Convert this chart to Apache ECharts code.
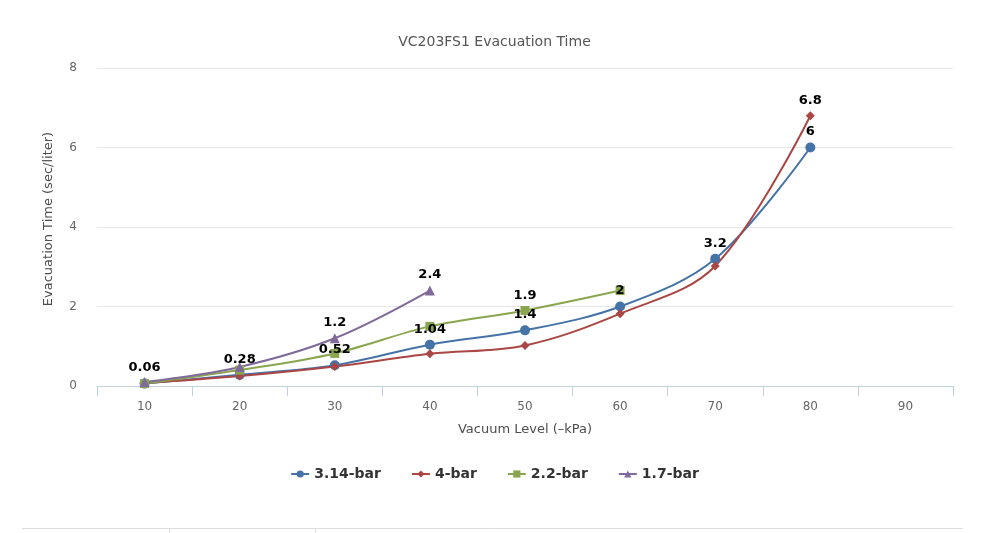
<!DOCTYPE html>
<html>
<head>
<meta charset="utf-8">
<script src="https://cdn.jsdelivr.net/npm/echarts@6/dist/echarts.min.js"></script>
<style>html,body{margin:0;padding:0;background:#fff}#c{width:989px;height:533px}</style>
</head>
<body>
<div id="c"></div>
<script>
var categories = ['10','20','30','40','50','60','70','80','90'];
var bar314 = [0.06, 0.28, 0.52, 1.04, 1.4, 2, 3.2, 6, null];
var bar4 = [0.07, 0.25, 0.49, 0.81, 1.02, 1.82, 3.02, 6.8, null];
var bar22 = [0.06, 0.4, 0.82, 1.5, 1.9, 2.4, null, null, null];
var bar17 = [0.1, 0.48, 1.2, 2.4, null, null, null, null, null];
var yTicks = [0, 2, 4, 6, 8];
// which points carry a visible value label (indices into categories)
var labels314 = [0,1,2,3,4,5,6,7];
var labels4 = [7];
var labels22 = [4];
var labels17 = [2,3];

var FONT = 'DejaVu Sans';
function mk(vals, shown){
  return vals.map(function(v,i){
    return {value: v, label: {show: shown.indexOf(i) >= 0}};
  });
}
var chart = echarts.init(document.getElementById('c'), null, {renderer:'canvas'});
var lbl = {position:'top', distance:4, color:'#000', fontWeight:'bold', fontSize:13, fontFamily:FONT};
function series(name, vals, shown, color, sym, size){
  return {
    name: name, type:'line', smooth:0.35, data: mk(vals, shown),
    symbol: sym, symbolSize: size, connectNulls:false,
    lineStyle:{width:2, color:color}, itemStyle:{color:color},
    label: Object.assign({}, lbl), emphasis:{disabled:true}
  };
}
chart.setOption({
  animation:false,
  title:{text:'VC203FS1 Evacuation Time', left:'center', top:30,
    textStyle:{fontFamily:FONT, fontSize:14, fontWeight:'normal', color:'#555'}},
  legend:{bottom:47, left:'center', itemWidth:18, itemHeight:9, itemGap:30,
    textStyle:{fontFamily:FONT, fontSize:14, fontWeight:'bold', color:'#333'}},
  grid:{left:97, right:36, top:68, bottom:147},
  xAxis:{type:'category', data:categories, boundaryGap:true,
    name:'Vacuum Level (–kPa)', nameLocation:'middle', nameGap:37,
    nameTextStyle:{fontFamily:FONT, fontSize:13, color:'#4d4d4d'},
    axisLine:{lineStyle:{color:'#C0D0E0'}},
    axisTick:{show:true, length:10, lineStyle:{color:'#C0D0E0'}},
    axisLabel:{fontFamily:FONT, fontSize:12, color:'#666', margin:15}},
  yAxis:{type:'value', min:yTicks[0], max:yTicks[yTicks.length-1], interval:2,
    name:'Evacuation Time (sec/liter)', nameLocation:'middle', nameGap:42,
    nameTextStyle:{fontFamily:FONT, fontSize:13, color:'#4d4d4d', padding:[0,0,0,16]},
    axisLabel:{fontFamily:FONT, fontSize:12, color:'#666', margin:20},
    splitLine:{lineStyle:{color:'#e6e6e6'}}},
  graphic:[
    {type:'line', shape:{x1:22,y1:528.5,x2:963,y2:528.5}, style:{stroke:'#ddd', lineWidth:1}},
    {type:'line', shape:{x1:169.5,y1:528,x2:169.5,y2:533}, style:{stroke:'#ddd', lineWidth:1}},
    {type:'line', shape:{x1:315.5,y1:528,x2:315.5,y2:533}, style:{stroke:'#ddd', lineWidth:1}}
  ],
  series:[
    series('3.14-bar', bar314, labels314, '#4572A7', 'circle', 10),
    series('4-bar', bar4, labels4, '#AA4643', 'diamond', 9),
    series('2.2-bar', bar22, labels22, '#89A54E', 'rect', 9),
    series('1.7-bar', bar17, labels17, '#80699B', 'triangle', 10)
  ]
});
</script>
</body>
</html>
